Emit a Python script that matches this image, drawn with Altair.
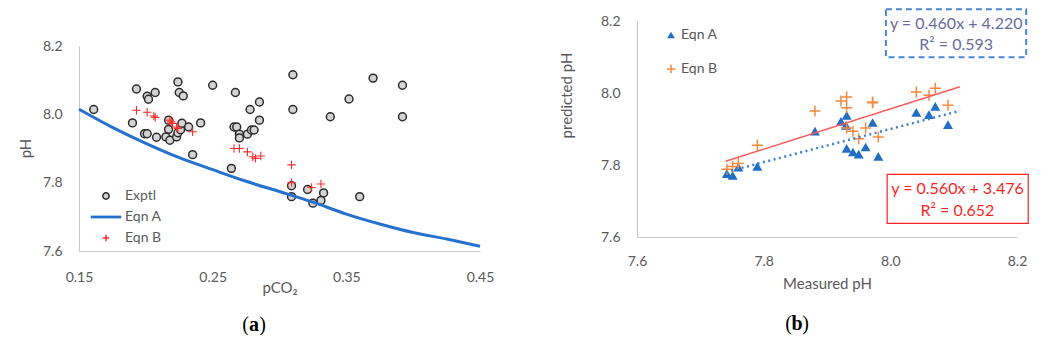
import altair as alt
import pandas as pd

FONT = "Lato"
GREY = "#595959"
AXIS_LINE = "#c8c8c8"

# ---------------- panel (a): pH vs pCO2 ----------------
exptl_pco2 = [0.161, 0.193, 0.201, 0.202, 0.207, 0.224, 0.225, 0.228, 0.250, 0.267,
              0.190, 0.199, 0.201, 0.208, 0.217, 0.217, 0.215, 0.218, 0.223, 0.224,
              0.226, 0.227, 0.232, 0.241, 0.235, 0.264, 0.266, 0.268, 0.270, 0.270,
              0.276, 0.278, 0.279, 0.281, 0.285, 0.285, 0.310, 0.310, 0.338, 0.352,
              0.370, 0.392, 0.392, 0.309, 0.309, 0.321, 0.325, 0.333, 0.331, 0.360]
exptl_ph = [8.014, 8.074, 8.053, 8.044, 8.064, 8.095, 8.064, 8.054, 8.085, 8.064,
            7.975, 7.943, 7.943, 7.933, 7.983, 7.956, 7.934, 7.924, 7.934, 7.946,
            7.955, 7.974, 7.963, 7.975, 7.882, 7.842, 7.963, 7.963, 7.942, 7.931,
            7.942, 8.014, 7.954, 7.954, 8.036, 7.983, 8.116, 8.014, 7.993, 8.045,
            8.106, 8.085, 7.993, 7.791, 7.759, 7.780, 7.740, 7.770, 7.748, 7.759]
eqnb_pco2 = [0.193, 0.201, 0.206, 0.207, 0.218, 0.219, 0.220, 0.223, 0.224, 0.235,
             0.266, 0.270, 0.276, 0.280, 0.282, 0.286, 0.309, 0.309, 0.324, 0.331]
eqnb_ph = [8.012, 8.006, 7.995, 7.991, 7.983, 7.978, 7.973, 7.963, 7.959, 7.949,
           7.900, 7.900, 7.890, 7.876, 7.871, 7.878, 7.852, 7.800, 7.786, 7.796]
curve_pco2 = [0.15, 0.175, 0.20, 0.225, 0.25, 0.275, 0.30, 0.325, 0.35, 0.375, 0.40, 0.425, 0.45]
curve_ph = [8.015, 7.962, 7.915, 7.873, 7.838, 7.804, 7.774, 7.743, 7.708, 7.679, 7.654, 7.635, 7.614]
x_ticks_a = [0.15, 0.25, 0.35, 0.45]
ph_ticks = [7.6, 7.8, 8.0, 8.2]
series_a = ["Exptl", "Eqn A", "Eqn B"]

# ---------------- panel (b): predicted vs measured ----------------
meas_a = [7.742, 7.751, 7.760, 7.790, 7.881, 7.922, 7.931, 7.930, 7.931, 7.941,
          7.950, 7.961, 7.972, 7.981, 8.041, 8.061, 8.071, 8.091]
pred_a = [7.776, 7.771, 7.794, 7.796, 7.894, 7.921, 7.938, 7.910, 7.846, 7.836,
          7.830, 7.850, 7.918, 7.824, 7.946, 7.940, 7.963, 7.912]
meas_b = [7.742, 7.751, 7.760, 7.790, 7.881, 7.922, 7.931, 7.931, 7.931, 7.941,
          7.950, 7.961, 7.972, 7.972, 7.981, 8.041, 8.061, 8.071, 8.091]
pred_b = [7.788, 7.796, 7.804, 7.855, 7.950, 7.978, 7.989, 7.959, 7.903, 7.894,
          7.873, 7.903, 7.975, 7.973, 7.878, 8.003, 7.994, 8.013, 7.966]
series_b = ["Eqn A", "Eqn B"]
trend_range = [7.74, 8.11]
fit_a = (0.460, 4.220)
fit_b = (0.560, 3.476)
label_fit_a = ["y = 0.460x + 4.220", "R² = 0.593"]
label_fit_b = ["y = 0.560x + 3.476", "R² = 0.652"]

CROSS = "M-1,0H1M0,-1V1"
CROSS_B = "M-1.1,0H1.1M0,-1.1V1.1"
LINE_SYM = "M-4.6,-0.2H4.6V0.2H-4.6Z"

# ---------- build panel (a) ----------
H_A = 205          # plot height of panel (a)
TOP_A = 25         # panel (a) sits lower than panel (b)

exptl_df = pd.DataFrame({"pco2": exptl_pco2, "ph": exptl_ph, "series": ["Exptl"] * len(exptl_pco2)})
eqnb_df = pd.DataFrame({"pco2": eqnb_pco2, "ph": eqnb_ph, "series": ["Eqn B"] * len(eqnb_pco2)})
curve_df = pd.DataFrame({"pco2": curve_pco2, "ph": curve_ph, "series": ["Eqn A"] * len(curve_pco2)})

leg_a = alt.Legend(title=None, orient="none", legendX=20, legendY=TOP_A + 143, padding=0,
                   labelFont=FONT, labelFontSize=14, labelColor=GREY, labelOffset=12,
                   rowPadding=7, symbolSize=40, symbolStrokeWidth=1.5)

x_a = alt.X("pco2:Q", scale=alt.Scale(domain=[0.15, 0.45], nice=False, zero=False),
            axis=alt.Axis(values=x_ticks_a, format=".2f", labelFlush=False, labelPadding=19,
                          title="pCO₂", titleY=29, titleBaseline="top"))
y_a = alt.Y("ph:Q", scale=alt.Scale(domain=[7.6, 8.2], nice=False, zero=False,
                                    range=[TOP_A + H_A, TOP_A]),
            axis=alt.Axis(values=ph_ticks, format=".1f", labelPadding=17, title="pH",
                          titleX=-54, titleY=TOP_A + 102, titleAngle=270, titleBaseline="middle",
                          titleAlign="center"))

stroke_a = alt.Stroke("series:N", scale=alt.Scale(domain=series_a, range=["#2b2b2b", "#2471d0", "#ff2b2b"]), legend=leg_a)
fill_a = alt.Fill("series:N", scale=alt.Scale(domain=series_a, range=["#d3d3d3", "#2471d0", "transparent"]), legend=leg_a)
shape_a = alt.Shape("series:N", scale=alt.Scale(domain=series_a, range=["circle", LINE_SYM, CROSS]), legend=leg_a)

line_a = alt.Chart(curve_df).mark_line(interpolate="monotone", strokeWidth=3).encode(
    x=x_a, y=y_a, stroke=stroke_a)
exptl_pts = alt.Chart(exptl_df).mark_point(filled=True, size=62, opacity=1, strokeWidth=1.5).encode(
    x=x_a, y=y_a, stroke=stroke_a, fill=fill_a, shape=shape_a)
eqnb_pts = alt.Chart(eqnb_df).mark_point(filled=True, size=70, opacity=1, strokeWidth=1.1).encode(
    x=x_a, y=y_a, stroke=stroke_a, fill=fill_a, shape=shape_a)


def caption(letter, cx, cy):
    """'(x)' caption: regular serif parentheses around a bold letter."""
    df = pd.DataFrame({"t": ["(", letter, ")"], "w": ["normal", "bold", "normal"],
                       "dx": [-8.5, 0, 8.5]})
    layers = []
    for i in range(3):
        layers.append(alt.Chart(df.iloc[[i]]).mark_text(
            font="Liberation Serif", fontSize=20, fontWeight=df["w"][i], dx=float(df["dx"][i]),
            color="black").encode(x=alt.value(cx), y=alt.value(cy), text="t:N"))
    return layers


left = alt.layer(exptl_pts, line_a, eqnb_pts, *caption("a", 175, TOP_A + 279)).properties(
    width=401, height=TOP_A + H_A)

# ---------- build panel (b) ----------
pts_b = pd.DataFrame({
    "m": meas_a + meas_b,
    "p": pred_a + pred_b,
    "series": ["Eqn A"] * len(meas_a) + ["Eqn B"] * len(meas_b),
})
trend_a_df = pd.DataFrame({"m": trend_range, "p": [fit_a[0] * v + fit_a[1] for v in trend_range]})
trend_b_df = pd.DataFrame({"m": trend_range, "p": [fit_b[0] * v + fit_b[1] for v in trend_range]})

box_a_df = pd.DataFrame({"m": [7.993], "m2": [8.2145], "p": [8.099], "p2": [8.2325]})
box_b_df = pd.DataFrame({"m": [7.995], "m2": [8.2177], "p": [7.638], "p2": [7.774]})
txt_a_df = pd.DataFrame({"m": [8.104, 8.104], "p": [8.191, 8.1325], "t": label_fit_a})
txt_b_df = pd.DataFrame({"m": [8.106, 8.106], "p": [7.732, 7.671], "t": label_fit_b})

ax_x_b = alt.Axis(values=ph_ticks, format=".1f", labelFlush=False, labelPadding=17,
                  title="Measured pH", titleY=39, titleBaseline="top")
ax_y_b = alt.Axis(values=ph_ticks, format=".1f", labelPadding=17, title="predicted pH",
                  titleX=-71, titleY=74, titleAngle=270, titleBaseline="middle", titleAlign="center")
sc_b = alt.Scale(domain=[7.6, 8.2], nice=False, zero=False)
x_b = alt.X("m:Q", scale=sc_b, axis=ax_x_b)
y_b = alt.Y("p:Q", scale=sc_b, axis=ax_y_b)

leg_b = alt.Legend(title=None, orient="none", legendX=27, legendY=7, padding=0,
                   labelFont=FONT, labelFontSize=14, labelColor=GREY, labelOffset=3,
                   rowPadding=19, symbolSize=60, symbolStrokeWidth=1.5)
fill_b = alt.Fill("series:N", scale=alt.Scale(domain=series_b, range=["#1f6fc8", "transparent"]), legend=leg_b)
stroke_b = alt.Stroke("series:N", scale=alt.Scale(domain=series_b, range=["transparent", "#f5893e"]), legend=leg_b)
shape_b = alt.Shape("series:N", scale=alt.Scale(domain=series_b, range=["triangle-up", CROSS_B]), legend=leg_b)

points_b = alt.Chart(pts_b).mark_point(filled=True, size=100, strokeWidth=1.5, opacity=1).encode(
    x=x_b, y=y_b, fill=fill_b, stroke=stroke_b, shape=shape_b)
trend_a = alt.Chart(trend_a_df).mark_line(color="#3d7fd9", strokeWidth=2.5, strokeDash=[2, 3.5]).encode(x=x_b, y=y_b)
trend_b = alt.Chart(trend_b_df).mark_line(color="#ff5a5a", strokeWidth=1.5).encode(x=x_b, y=y_b)
box_a = alt.Chart(box_a_df).mark_rect(fillOpacity=0, stroke="#4a86d8", strokeWidth=2, strokeDash=[6, 4]).encode(
    x=x_b, x2="m2:Q", y=y_b, y2="p2:Q")
box_b = alt.Chart(box_b_df).mark_rect(fillOpacity=0, stroke="#ff2020", strokeWidth=1.2).encode(
    x=x_b, x2="m2:Q", y=y_b, y2="p2:Q")
text_a = alt.Chart(txt_a_df).mark_text(font=FONT, fontSize=16, color="#6a6c9e").encode(x=x_b, y=y_b, text="t:N")
text_b = alt.Chart(txt_b_df).mark_text(font=FONT, fontSize=16, color="#ff1f1f").encode(x=x_b, y=y_b, text="t:N")

right = alt.layer(points_b, trend_a, trend_b, box_a, box_b, text_a, text_b,
                  *caption("b", 160, 303)).properties(width=380, height=216)

chart = alt.hconcat(left, right, spacing=65).resolve_scale(
    fill="independent", stroke="independent", shape="independent",
).resolve_legend(
    fill="independent", stroke="independent", shape="independent",
).properties(
    padding={"left": 10, "top": 0, "right": 0, "bottom": 0},
    background="white",
).configure_view(stroke=None).configure_axis(
    grid=False, ticks=False, tickSize=0, domainColor=AXIS_LINE, domainWidth=1,
    labelFont=FONT, labelFontSize=14, labelColor=GREY,
    titleFont=FONT, titleFontSize=15, titleFontWeight="normal", titleColor=GREY,
)

chart.save("out.html", embed_options={"renderer": "svg", "actions": False})
